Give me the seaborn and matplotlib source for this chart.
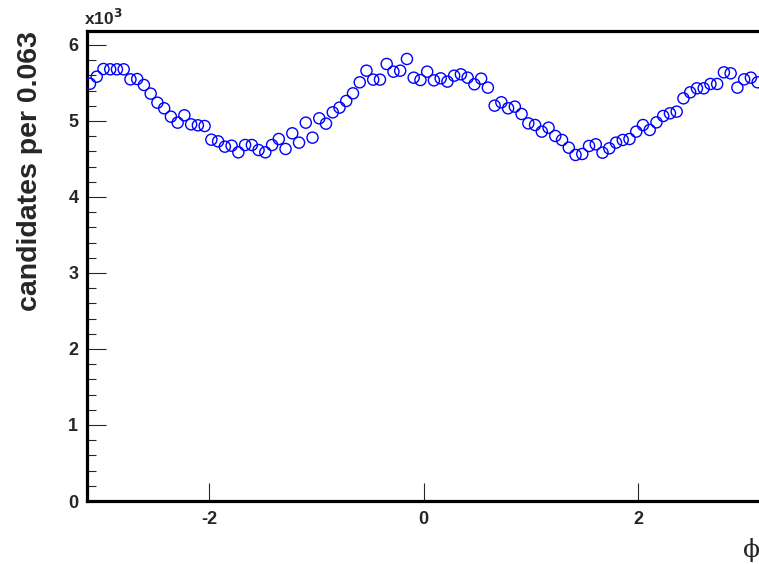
import numpy as np
import pandas as pd
import matplotlib
matplotlib.use("Agg")
import matplotlib.pyplot as plt
from matplotlib.ticker import MultipleLocator, FuncFormatter
import seaborn as sns

# ---- data ----
n_bins = 100
phi_min, phi_max = -np.pi, np.pi
counts = [
    5490, 5583, 5684, 5680, 5680, 5680, 5548, 5552, 5474, 5360,
    5241, 5167, 5057, 4978, 5075, 4956, 4943, 4934, 4754, 4732,
    4662, 4675, 4588, 4684, 4684, 4618, 4588, 4684, 4763, 4632,
    4838, 4715, 4978, 4781, 5035, 4965, 5114, 5176, 5263, 5364,
    5509, 5662, 5544, 5544, 5750, 5649, 5662, 5816, 5570, 5539,
    5649, 5535, 5561, 5518, 5596, 5614, 5570, 5483, 5557, 5439,
    5202, 5246, 5167, 5189, 5092, 4969, 4947, 4860, 4912, 4803,
    4750, 4649, 4553, 4566, 4671, 4693, 4583, 4640, 4715, 4750,
    4763, 4860, 4947, 4882, 4982, 5066, 5101, 5123, 5298, 5377,
    5430, 5430, 5487, 5487, 5640, 5627, 5439, 5548, 5570, 5509,
]
y_max = 6184
x_ticks = [-2, 0, 2]
y_label = "candidates per 0.063"
x_label = "\u03d5"

edges = np.linspace(phi_min, phi_max, n_bins + 1)
centers = 0.5 * (edges[:-1] + edges[1:])
df = pd.DataFrame({"phi": centers, "n": counts})

# ---- style ----
sns.set_style("white")
plt.rcParams["font.family"] = ["Liberation Sans", "DejaVu Sans"]
plt.rcParams["font.weight"] = "bold"

W, H = 759, 564
fig = plt.figure(figsize=(W / 100, H / 100), dpi=100)
ax = fig.add_axes([86.6 / W, 63 / H, (761 - 86.6) / W, (501 - 31) / H])

sns.scatterplot(data=df, x="phi", y="n", ax=ax, marker="o", s=64,
                facecolor="none", edgecolor="#0000ff", linewidth=1.0,
                legend=False, zorder=3, clip_on=True)

ax.set_xlim(phi_min, phi_max)
ax.set_ylim(0, y_max)
ax.set_xticks(x_ticks)
ax.set_xticklabels([str(t) for t in x_ticks])
ax.yaxis.set_major_locator(MultipleLocator(1000))
ax.yaxis.set_minor_locator(MultipleLocator(200))
ax.yaxis.set_major_formatter(FuncFormatter(lambda v, p: f"{int(round(v / 1000))}"))

for side in ["left", "bottom", "top"]:
    ax.spines[side].set_linewidth(2.3)
    ax.spines[side].set_color("black")
ax.spines["right"].set_visible(False)

ax.tick_params(axis="y", which="major", direction="in", length=13.7, width=0.8,
               labelsize=13, pad=6, left=True, right=False)
ax.tick_params(axis="y", which="minor", direction="in", length=6.8, width=0.8,
               left=True, right=False)
ax.tick_params(axis="x", which="major", direction="in", length=13, width=0.8,
               labelsize=13, pad=7, bottom=True, top=False)
for lab in ax.get_xticklabels() + ax.get_yticklabels():
    lab.set_fontweight("bold")

ax.set_xlabel("")
ax.set_ylabel("")
fig.text(30 / W, 1 - 171 / H, y_label, rotation=90, ha="center", va="center",
         fontsize=20.5, fontweight="bold")
fig.text(760 / W, 1 - 550 / H, x_label, ha="right", va="center",
         fontsize=18, fontweight="normal", family=["DejaVu Serif"])
fig.text(84 / W, 1 - 25 / H, r"x10$^{\mathbf{3}}$", ha="left", va="baseline",
         fontsize=12.5, fontweight="bold")

fig.savefig("out.png", dpi=100)
